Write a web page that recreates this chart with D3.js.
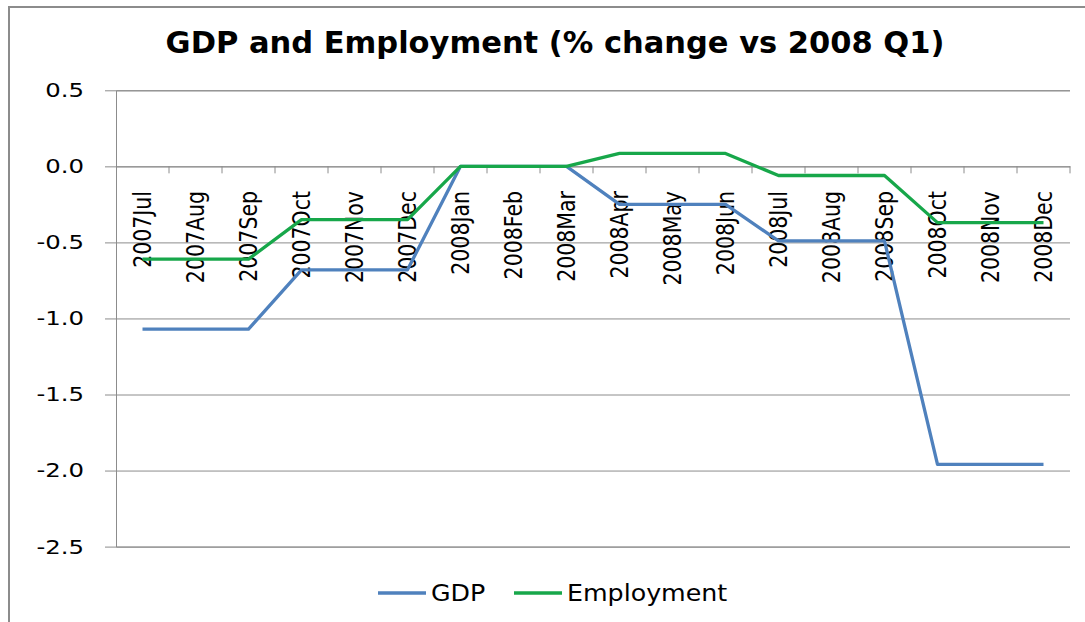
<!DOCTYPE html>
<html lang="en">
<head>
    <meta charset="UTF-8">
    <title>GDP and Employment</title>
    <script src="https://d3js.org/d3.v7.min.js"></script>
    <style>
        body {
            margin: 0;
            padding: 0;
            background-color: #fff;
            font-family: "DejaVu Sans", sans-serif;
        }
    </style>
</head>
<body>
    <svg id="chart" width="1085" height="622"></svg>

    <script>
        // Data
        const months = ["2007Jul", "2007Aug", "2007Sep", "2007Oct", "2007Nov", "2007Dec",
                        "2008Jan", "2008Feb", "2008Mar", "2008Apr", "2008May", "2008Jun",
                        "2008Jul", "2008Aug", "2008Sep", "2008Oct", "2008Nov", "2008Dec"];
        const gdp = [-1.07, -1.07, -1.07, -0.68, -0.68, -0.68,
                     0, 0, 0, -0.25, -0.25, -0.25,
                     -0.49, -0.49, -0.49, -1.96, -1.96, -1.96];
        const employment = [-0.61, -0.61, -0.61, -0.35, -0.35, -0.35,
                            0, 0, 0, 0.085, 0.085, 0.085,
                            -0.06, -0.06, -0.06, -0.37, -0.37, -0.37];
        const yTicks = [0.5, 0, -0.5, -1.0, -1.5, -2.0, -2.5];

        const series = [
            { name: "GDP", values: gdp, color: "#4F81BD" },
            { name: "Employment", values: employment, color: "#17A74A" }
        ];

        const svg = d3.select("#chart");
        const plotLeft = 116, plotRight = 1070, plotTop = 90.3, plotBottom = 546.6;

        // chart frame
        svg.append("rect")
            .attr("x", 9).attr("y", 7)
            .attr("width", 1100).attr("height", 640)
            .attr("fill", "none")
            .attr("stroke", "#8c8c8c")
            .attr("stroke-width", 2);

        const x = d3.scaleBand().domain(months).range([plotLeft, plotRight]);
        const y = d3.scaleLinear().domain([-2.5, 0.5]).range([plotBottom, plotTop]);

        // horizontal gridlines + y ticks
        const yAxis = svg.append("g")
            .attr("transform", `translate(${plotLeft},0)`)
            .call(d3.axisLeft(y).tickValues(yTicks)
                .tickSize(-(plotRight - plotLeft))
                .tickPadding(0)
                .tickFormat(d3.format(".1f")));
        yAxis.select(".domain").attr("stroke", "#8c8c8c");
        yAxis.selectAll(".tick line")
            .attr("stroke", "#8c8c8c")
            .attr("x1", -11);
        // the original text is a bit wide, so stretch it sideways
        yAxis.selectAll(".tick text")
            .attr("x", 0)
            .attr("transform", "translate(-32,0) scale(1.22,1)")
            .attr("font-size", 20)
            .attr("font-family", "DejaVu Sans")
            .attr("fill", "#000")
            .text(d => d3.format(".1f")(d).replace("−", "-"));

        // category axis sitting on zero
        const xAxis = svg.append("g")
            .attr("transform", `translate(0,${y(0)})`)
            .call(d3.axisBottom(x).tickSize(0).tickFormat(""));
        xAxis.select(".domain").attr("stroke", "#8c8c8c");

        svg.append("g")
            .selectAll("line")
            .data(months)
            .join("line")
            .attr("x1", d => x(d) + x.bandwidth())
            .attr("x2", d => x(d) + x.bandwidth())
            .attr("y1", y(0))
            .attr("y2", y(0) + 7)
            .attr("stroke", "#8c8c8c");

        svg.append("g")
            .selectAll("text")
            .data(months)
            .join("text")
            .attr("transform", d => `translate(${x(d) + x.bandwidth() / 2},191) scale(1.2,1) rotate(-90)`)
            .attr("text-anchor", "end")
            .attr("dy", "0.36em")
            .attr("font-size", 20.5)
            .attr("fill", "#000")
            .text(d => d);

        // lines
        const line = d3.line()
            .x((d, i) => x(months[i]) + x.bandwidth() / 2)
            .y(d => y(d));

        svg.append("g")
            .selectAll("path")
            .data(series)
            .join("path")
            .attr("d", d => line(d.values))
            .attr("fill", "none")
            .attr("stroke", d => d.color)
            .attr("stroke-width", 3.3)
            .attr("stroke-linejoin", "round");

        // title
        svg.append("text")
            .attr("x", 555).attr("y", 53)
            .attr("text-anchor", "middle")
            .attr("font-size", 30.5)
            .attr("font-weight", "bold")
            .attr("fill", "#000")
            .text("GDP and Employment (% change vs 2008 Q1)");

        // legend
        const legendX = [378, 514];
        const legend = svg.append("g")
            .selectAll("g")
            .data(series)
            .join("g")
            .attr("transform", (d, i) => `translate(${legendX[i]},593)`);
        legend.append("line")
            .attr("x1", 0).attr("x2", 48)
            .attr("stroke", d => d.color)
            .attr("stroke-width", 3.3);
        legend.append("text")
            .attr("x", 0)
            .attr("transform", "translate(53,0) scale(1.1,1)")
            .attr("dy", "0.36em")
            .attr("font-size", 23)
            .attr("fill", "#000")
            .text(d => d.name);
    </script>
</body>
</html>
